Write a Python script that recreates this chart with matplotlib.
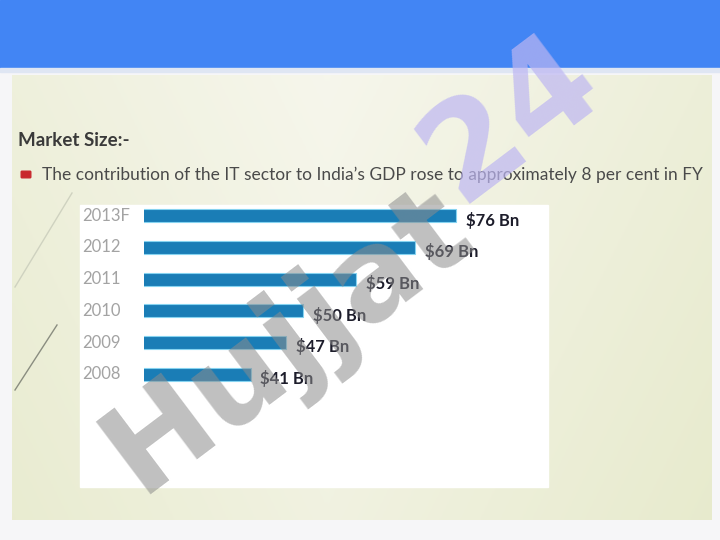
import numpy as np
import matplotlib.pyplot as plt
from matplotlib.patches import Rectangle, FancyBboxPatch
from matplotlib.transforms import blended_transform_factory

years = ["2008", "2009", "2010", "2011", "2012", "2013F"]
values = [41, 47, 50, 59, 69, 76]
labels = ["$41 Bn", "$47 Bn", "$50 Bn", "$59 Bn", "$69 Bn", "$76 Bn"]

heading = "Market Size:-"
bullet = "The contribution of the IT sector to India\u2019s GDP rose to approximately 8 per cent in FY"

plt.rcParams['font.family'] = ['Lato', 'DejaVu Sans']

fig = plt.figure(figsize=(7.2, 5.4), dpi=100)
fig.patch.set_facecolor('#f6f6f8')

# slide background, drawn in pixel coords
bg = fig.add_axes([0, 0, 1, 1])
bg.set_xlim(0, 720)
bg.set_ylim(540, 0)
bg.axis('off')

gx = np.linspace(0, 1, 200)
gy = np.linspace(0, 1, 150)
X, Y = np.meshgrid(gx, gy)
t = np.clip(0.55 * np.abs(X - 0.45) * 2 + 0.35 * Y, 0, 1)
c0 = np.array([0.965, 0.965, 0.925])
c1 = np.array([0.905, 0.918, 0.800])
img = c0 + (c1 - c0) * t[..., None]
bg.imshow(img, extent=(12, 712, 520, 75), aspect='auto', zorder=0)

bg.add_patch(Rectangle((0, 0), 720, 68, color='#4285f4', zorder=1))
bg.add_patch(Rectangle((0, 68), 720, 4, color='#dfe6f3', zorder=1))

# white chart panel
bg.add_patch(Rectangle((80, 205), 468, 282, color='white', zorder=1))

# thin decorative lines on the left
bg.plot([15, 72], [287, 193], color='#cfd2c0', lw=1, zorder=2)
bg.plot([15, 57], [390, 325], color='#8a8d80', lw=1, zorder=2)

bg.text(18, 140, heading, fontsize=13.5, fontweight='bold', color='#3a3a3a',
        va='center', ha='left', zorder=3)
bg.add_patch(FancyBboxPatch((22, 172), 8, 5, boxstyle='round,pad=0.8',
                            color='#c8282d', zorder=3))
bg.text(42, 175, bullet, fontsize=12.5, color='#4a4a4a', va='center',
        ha='left', zorder=3)

# bar chart
ax = fig.add_axes([144 / 720, 150 / 540, 404 / 720, 190 / 540])
ax.patch.set_alpha(0)
pos = np.arange(len(years))
ax.barh(pos, values, height=0.42, color='#1a7db6', edgecolor='#86d3f0',
        linewidth=0.8, zorder=2)
ax.set_xlim(22.8, 91.7)
ax.set_ylim(-0.5, len(years) - 0.5)
ax.axis('off')

tr = blended_transform_factory(fig.transFigure, ax.transData)
for i, (yr, v, lab) in enumerate(zip(years, values, labels)):
    ax.text(82 / 720, i, yr, transform=tr, fontsize=12, color='#a3a3a3',
            va='center', ha='left')
    ax.annotate(lab, (v, i), xytext=(7, -3), textcoords='offset points',
                fontsize=12, fontweight='bold', color='#1d1d2b',
                va='center', ha='left', zorder=3)

# watermark
fig.text(0.40, 0.37, "Hujjat", fontsize=90, fontweight='bold',
         family='DejaVu Sans', color='#8c8c8c', alpha=0.55, rotation=37,
         ha='center', va='center', zorder=10)
fig.text(0.71, 0.78, "24", fontsize=96, fontweight='bold',
         family='DejaVu Sans', color='#bdb6f2', alpha=0.7, rotation=37,
         ha='center', va='center', zorder=10)

fig.savefig('out.png', dpi=100)
